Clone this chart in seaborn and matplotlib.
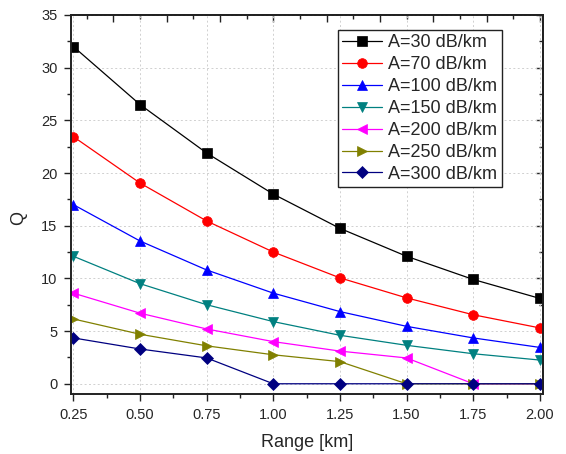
import matplotlib
matplotlib.use("Agg")
import matplotlib.pyplot as plt
import numpy as np
import pandas as pd
import seaborn as sns
from matplotlib.ticker import MultipleLocator, FixedLocator

# values
ranges_km = [0.25, 0.50, 0.75, 1.00, 1.25, 1.50, 1.75, 2.00]
q_a30 = [32.0, 26.5, 21.9, 18.0, 14.75, 12.1, 9.9, 8.1]
q_a70 = [23.45, 19.05, 15.45, 12.5, 10.05, 8.15, 6.55, 5.3]
q_a100 = [17.0, 13.55, 10.8, 8.6, 6.85, 5.45, 4.35, 3.45]
q_a150 = [12.1, 9.5, 7.5, 5.9, 4.6, 3.65, 2.85, 2.25]
q_a200 = [8.6, 6.7, 5.2, 4.0, 3.1, 2.45, 0.0, 0.0]
q_a250 = [6.15, 4.7, 3.6, 2.75, 2.1, 0.0, 0.0, 0.0]
q_a300 = [4.35, 3.3, 2.45, 0.0, 0.0, 0.0, 0.0, 0.0]

series_labels = ["A=30 dB/km", "A=70 dB/km", "A=100 dB/km", "A=150 dB/km",
                 "A=200 dB/km", "A=250 dB/km", "A=300 dB/km"]
series_values = [q_a30, q_a70, q_a100, q_a150, q_a200, q_a250, q_a300]

colors = ["#000000", "#ff0000", "#0000ff", "#008080", "#ff00ff", "#808000", "#000080"]
markers = ["s", "o", "^", "v", "<", ">", "D"]

df = pd.concat([
    pd.DataFrame({"Range": ranges_km, "Q": vals, "Series": lab})
    for lab, vals in zip(series_labels, series_values)
], ignore_index=True)

sns.set_style("ticks")
plt.rcParams["font.family"] = ["Liberation Sans", "DejaVu Sans"]

fig = plt.figure(figsize=(5.66, 4.54), dpi=100)
ax = fig.add_axes([0.1254, 0.1315, 0.8331, 0.8355])

sns.lineplot(data=df, x="Range", y="Q", hue="Series", style="Series",
             hue_order=series_labels, style_order=series_labels,
             palette=dict(zip(series_labels, colors)),
             markers=dict(zip(series_labels, markers)), dashes=False,
             linewidth=0.9, markersize=7, ax=ax, legend=True)

for line in ax.lines:
    line.set_markeredgecolor(line.get_color())
    line.set_markeredgewidth(0.5)
    if line.get_marker() == "D":
        line.set_markersize(6)

ax.set_xlim(0.241, 2.01)
ax.set_ylim(-1, 35)
ax.xaxis.set_major_locator(FixedLocator(ranges_km))
ax.xaxis.set_minor_locator(MultipleLocator(0.125))
ax.yaxis.set_major_locator(MultipleLocator(5))
ax.yaxis.set_minor_locator(MultipleLocator(2.5))
ax.set_xticklabels([f"{v:.2f}" for v in ranges_km])

ax.tick_params(which="major", direction="out", length=4.8, width=1.0,
               labelsize=10.5, pad=5, color="#222222")
ax.tick_params(which="minor", direction="out", length=2.8, width=1.0, color="#222222")

ax.grid(True, which="major", color="#d0d0d0", linestyle=(0, (2, 2.5)), linewidth=0.7)

for sp in ax.spines.values():
    sp.set_linewidth(1.4)
    sp.set_color("#222222")

# mirrored top and right axes with inward ticks
top = ax.secondary_xaxis("top")
top.xaxis.set_major_locator(MultipleLocator(0.2))
top.xaxis.set_minor_locator(MultipleLocator(0.1))
top.tick_params(which="major", direction="in", length=4.8, width=1.0, labeltop=False, color="#222222")
top.tick_params(which="minor", direction="in", length=2.8, width=1.0, color="#222222")
top.spines["top"].set_linewidth(1.4)
top.spines["top"].set_color("#222222")

right = ax.secondary_yaxis("right")
right.yaxis.set_major_locator(MultipleLocator(5))
right.yaxis.set_minor_locator(MultipleLocator(2.5))
right.tick_params(which="major", direction="in", length=4.8, width=1.0, labelright=False, color="#222222")
right.tick_params(which="minor", direction="in", length=2.8, width=1.0, color="#222222")
right.spines["right"].set_linewidth(1.4)
right.spines["right"].set_color("#222222")

ax.set_xlabel("Range [km]", fontsize=13, labelpad=9)
ax.set_ylabel("Q", fontsize=13)
ax.yaxis.set_label_coords(-0.093, 0.465)

leg = ax.legend(loc="upper right", bbox_to_anchor=(0.9135, 0.9605), borderaxespad=0,
                fontsize=13, frameon=True, fancybox=False, framealpha=1,
                edgecolor="#222222", labelspacing=0.27, handlelength=2.2,
                handletextpad=0.35, borderpad=0.25, title=None)
leg.get_frame().set_linewidth(1.0)
for h in leg.legend_handles:
    h.set_markeredgecolor(h.get_color())

fig.savefig("out.png", dpi=100)
